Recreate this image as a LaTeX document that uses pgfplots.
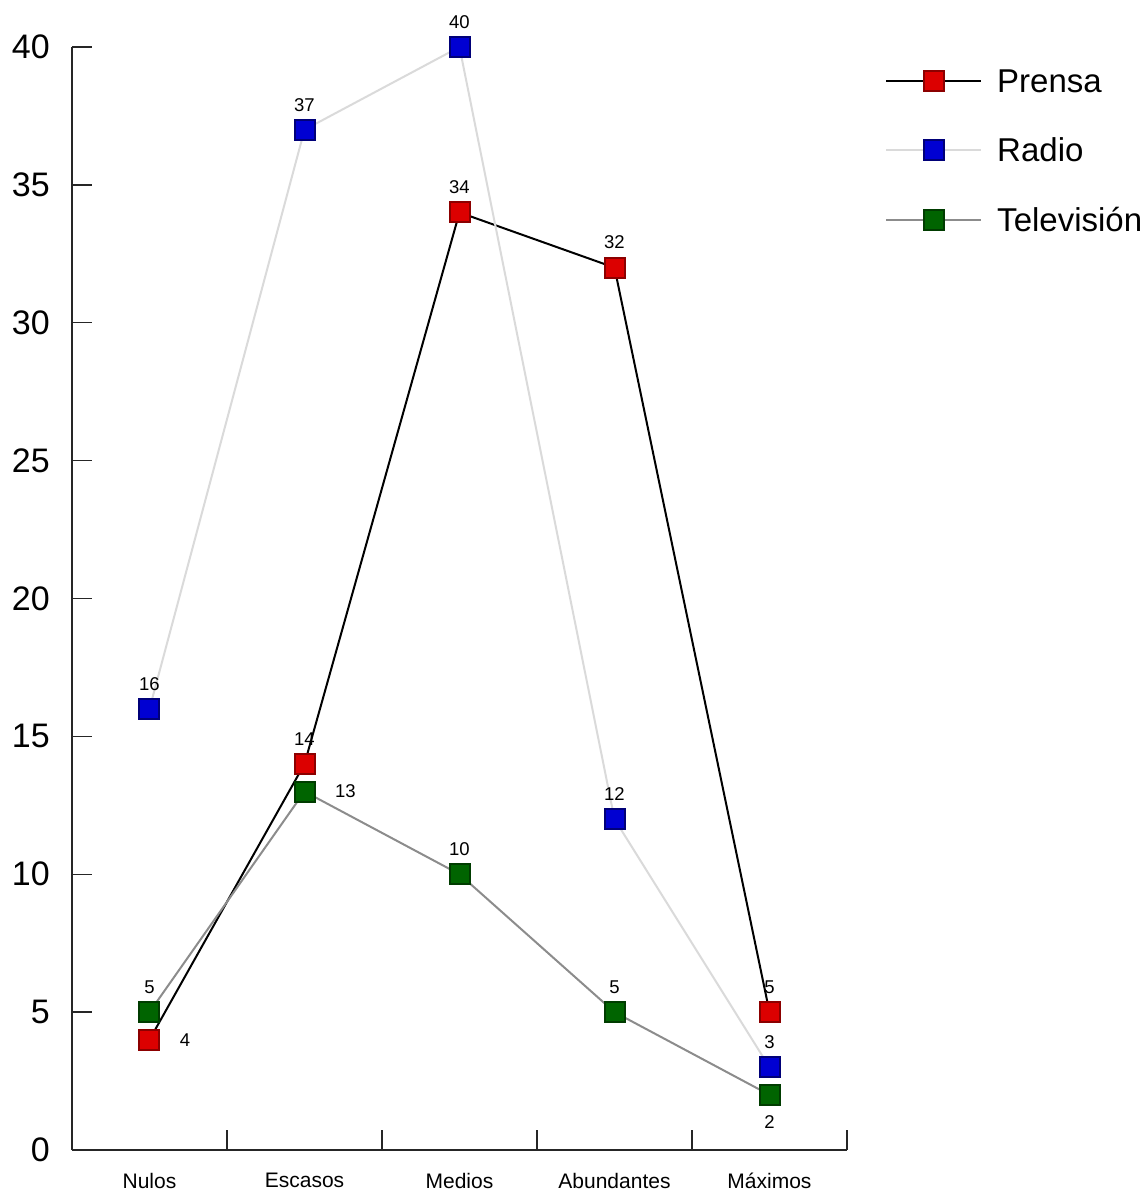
\documentclass[border=0pt]{standalone}
\usepackage{pgfplots}
\pgfplotsset{compat=1.18}
\usepackage{fontspec}
\setmainfont{Liberation Sans}
\definecolor{pred}{RGB}{220,0,0}
\definecolor{predb}{RGB}{140,0,0}
\definecolor{pblue}{RGB}{0,0,210}
\definecolor{pblueb}{RGB}{0,0,120}
\definecolor{pgreen}{RGB}{0,100,0}
\definecolor{pgreenb}{RGB}{0,60,0}
\definecolor{lradio}{RGB}{218,218,218}
\definecolor{ltv}{RGB}{140,140,140}
\begin{document}
\begin{tikzpicture}
\useasboundingbox (-72pt,-41pt) rectangle (1075pt,1150pt);
\begin{axis}[
  at={(0pt,0pt)}, anchor=south west,
  scale only axis, width=775pt, height=1103pt,
  xmin=-0.5, xmax=4.5, ymin=0, ymax=40,
  axis x line*=bottom, axis y line*=left,
  axis line style={line width=1.4pt, black!85},
  xtick={0.5,1.5,2.5,3.5,4.5}, xticklabels={},
  extra x ticks={0,1,2,3,4},
  extra x tick labels={Nulos,Escasos,Medios,Abundantes,Máximos},
  extra x tick style={major tick length=0pt,
     xticklabel style={font=\fontsize{21}{21}\selectfont, inner sep=0pt, anchor=north, yshift=-23pt}},
  ytick={0,5,...,40},
  tick align=inside,
  major tick length=20pt,
  tick style={line width=1.4pt, black!85},
  /pgf/number format/assume math mode=true,
  yticklabel style={font=\fontsize{34}{34}\selectfont, inner sep=0pt, anchor=east, xshift=-22pt},
  clip=false,
  legend style={draw=none, fill=none, at={(1.0452,0.9818)}, anchor=north west,
     font=\fontsize{33}{33}\selectfont, row sep=44pt,
     nodes={inner sep=0pt}},
  legend cell align=left,
  legend image code/.code={\draw[mark repeat=2,mark phase=2,#1] plot coordinates {(0pt,0pt) (47.5pt,0pt) (95pt,0pt)}; \path (110pt,0pt);},
  every axis plot/.append style={line width=2pt, mark=square*, mark size=10pt, mark options={line width=1pt}},
  nodes near coords style={font=\fontsize{18.5}{18.5}\selectfont, inner sep=0pt},
]
\addplot[black, mark options={fill=pred, draw=predb}] coordinates {(0,4) (1,14) (2,34) (3,32) (4,5)};
\addlegendentry{Prensa}
\addplot[lradio, mark options={fill=pblue, draw=pblueb}] coordinates {(0,16) (1,37) (2,40) (3,12) (4,3)};
\addlegendentry{Radio}
\addplot[ltv, mark options={fill=pgreen, draw=pgreenb}] coordinates {(0,5) (1,13) (2,10) (3,5) (4,2)};
\addlegendentry{Televisión}
% value labels above
\addplot[forget plot, draw=none, mark=none, point meta=explicit symbolic, nodes near coords,
  every node near coord/.append style={anchor=south, yshift=18pt}] coordinates {
  (0,16)[16] (1,37)[37] (2,40)[40] (3,12)[12] (4,3)[3]
  (1,14)[14] (2,34)[34] (3,32)[32] (4,5)[5]
  (0,5)[5] (2,10)[10] (3,5)[5]};
% value labels to the right
\addplot[forget plot, draw=none, mark=none, point meta=explicit symbolic, nodes near coords,
  every node near coord/.append style={anchor=west, xshift=30pt}] coordinates {
  (0,4)[4] (1,13)[13]};
% value labels below
\addplot[forget plot, draw=none, mark=none, point meta=explicit symbolic, nodes near coords,
  every node near coord/.append style={anchor=north, yshift=-20pt}] coordinates {
  (4,2)[2]};
\end{axis}
\end{tikzpicture}
\end{document}
